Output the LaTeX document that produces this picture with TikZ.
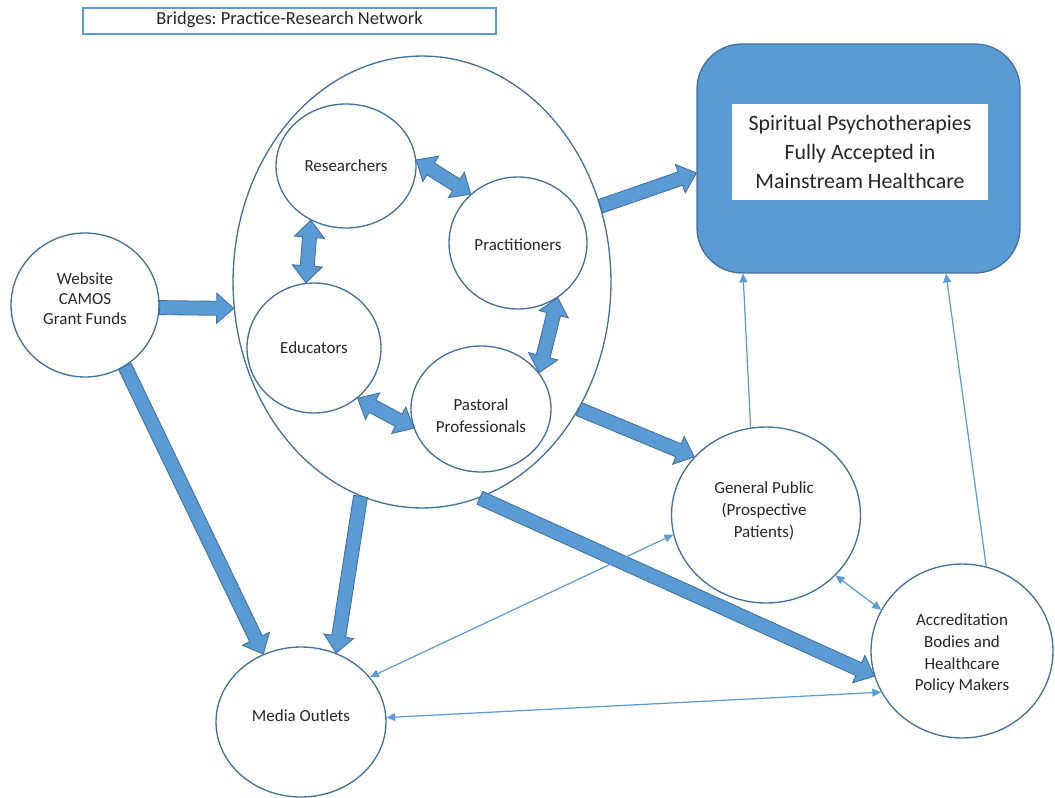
\documentclass[tikz,border=0pt]{standalone}
\usepackage{fontspec}
\setmainfont{Carlito}
\frenchspacing
\usetikzlibrary{shapes.geometric,calc,arrows.meta}
\definecolor{accentblue}{HTML}{5B9BD5}
\definecolor{edgeblue}{HTML}{41719C}
\definecolor{txt}{HTML}{262626}
\newcommand{\baw}{0.14cm}
\newcommand{\baW}{0.30cm}
\newcommand{\bahl}{0.34cm}
\newcommand{\barrow}[2]{%
  \coordinate (ba-s) at (#1);
  \coordinate (ba-t) at (#2);
  \coordinate (ba-c) at ($(ba-t)!\bahl!(ba-s)$);
  \draw[blockarrow] ($(ba-s)!\baw!90:(ba-t)$) -- ($(ba-c)!\baw!-90:(ba-s)$) -- ($(ba-c)!\baW!-90:(ba-s)$) -- (ba-t) -- ($(ba-c)!\baW!90:(ba-s)$) -- ($(ba-c)!\baw!90:(ba-s)$) -- ($(ba-s)!\baw!-90:(ba-t)$) -- cycle;}
\newcommand{\dbarrow}[2]{%
  \coordinate (ba-s) at (#1);
  \coordinate (ba-t) at (#2);
  \coordinate (ba-c) at ($(ba-s)!\bahl!(ba-t)$);
  \coordinate (ba-d) at ($(ba-t)!\bahl!(ba-s)$);
  \draw[blockarrow] (ba-s) -- ($(ba-c)!\baW!90:(ba-t)$) -- ($(ba-c)!\baw!90:(ba-t)$) -- ($(ba-d)!\baw!-90:(ba-s)$) -- ($(ba-d)!\baW!-90:(ba-s)$) -- (ba-t) -- ($(ba-d)!\baW!90:(ba-s)$) -- ($(ba-d)!\baw!90:(ba-s)$) -- ($(ba-c)!\baw!-90:(ba-t)$) -- ($(ba-c)!\baW!-90:(ba-t)$) -- cycle;}
\tikzset{
  actor/.style={ellipse, draw=edgeblue, line width=0.75pt, fill=white, inner sep=0pt},
  actortext/.style={text=txt, align=center, font=\fontsize{9.65}{12.5}\selectfont, inner sep=0pt},
  blockarrow/.style={fill=accentblue, draw=edgeblue, line width=0.5pt, line join=miter},
  thinarrow/.style={draw=accentblue, line width=0.7pt, -{Triangle[length=5pt,width=4.5pt]}},
  thinboth/.style={draw=accentblue, line width=0.7pt, {Triangle[length=5pt,width=4.5pt]}-{Triangle[length=5pt,width=4.5pt]}},
  goalbox/.style={rectangle, rounded corners=0.9cm, fill=accentblue, draw=edgeblue, line width=0.75pt, minimum width=6.46cm, minimum height=4.58cm},
  goallabel/.style={rectangle, fill=white, minimum width=5.12cm, minimum height=1.92cm, inner sep=0pt, align=center, text=txt, font=\fontsize{12.45}{16.4}\selectfont},
  titlebox/.style={rectangle, draw=accentblue, line width=1.1pt, minimum width=8.26cm, minimum height=0.52cm, inner sep=0pt},
  titletext/.style={text=txt, font=\fontsize{10.5}{12.6}\selectfont, inner sep=0pt}
}
\begin{document}
\begin{tikzpicture}[x=0.02cm,y=-0.02cm]
\useasboundingbox (0,0) rectangle (1055,798);
\node[titlebox] (title) at (289.5,21) {};
\node[titletext] (title-t) at ([yshift=0.02cm]title.center) {Bridges: Practice-Research Network};
\node[actor, minimum width=7.56cm, minimum height=9.04cm] (net) at (422,282) {};
\node[actor, minimum width=2.8cm, minimum height=2.48cm] (res) at (346,166) {};
\node[actor, minimum width=2.76cm, minimum height=2.64cm] (prac) at (518,243) {};
\node[actor, minimum width=2.68cm, minimum height=2.6cm] (edu) at (314,348) {};
\node[actor, minimum width=2.8cm, minimum height=2.52cm] (past) at (481,409) {};
\node[actor, minimum width=2.96cm, minimum height=2.88cm] (web) at (85,305) {};
\node[goalbox] (goal) at (858.5,158.5) {};
\node[goallabel] (goaltext) at (860,152) {Spiritual Psychotherapies\\Fully Accepted in\\Mainstream Healthcare};
\node[actor, minimum width=3.78cm, minimum height=3.52cm] (gp) at (766,515) {};
\node[actor, minimum width=3.64cm, minimum height=3.48cm] (acc) at (962,651) {};
\node[actor, minimum width=3.4cm, minimum height=3.0cm] (media) at (301,722) {};
\node[actortext] (res-t) at (res.center) {Researchers};
\node[actortext] (prac-t) at ([yshift=-0.04cm]prac.center) {Practitioners};
\node[actortext] (edu-t) at (edu.center) {Educators};
\node[actortext] (past-t) at ([yshift=-0.13cm]past.center) {Pastoral\\Professionals};
\node[actortext, font=\fontsize{9.65}{11.4}\selectfont] (web-t) at ([yshift=0.12cm]web.center) {Website\\CAMOS\\Grant Funds};
\node[actortext] (gp-t) at ([yshift=0.08cm,xshift=-0.04cm]gp.center) {General Public\\(Prospective\\Patients)};
\node[actortext] (acc-t) at ([yshift=-0.05cm]acc.center) {Accreditation\\Bodies and\\Healthcare\\Policy Makers};
\node[actortext] (media-t) at ([yshift=0.12cm]media.center) {Media Outlets};
\coordinate (goalin) at ([yshift=-0.29cm]goal.west);
\coordinate (goalgp) at ([xshift=-2.31cm]goal.south);
\coordinate (goalacc) at ([xshift=1.75cm]goal.south);
\barrow{web.-2.3}{net.-172.2}
\barrow{web.-57.8}{media.119.8}
\barrow{net.23.9}{goalin}
\barrow{net.-39.7}{gp.141.5}
\barrow{net.-106.2}{media.63.8}
\barrow{net.-75.3}{acc.-164.6}
\dbarrow{res.5.5}{prac.134.4}
\dbarrow{res.-123.7}{edu.97.9}
\dbarrow{prac.-54.7}{past.32.8}
\dbarrow{edu.-49.3}{past.-164.4}
\draw[thinarrow] (gp.100.3) -- (goalgp);
\draw[thinarrow] (acc.74.1) -- (goalacc);
\draw[thinboth] (gp.-41.8) -- (acc.153.1);
\draw[thinboth] (media.33.9) -- (gp.-168.6);
\draw[thinboth] (media.3.3) -- (acc.-153.7);
\end{tikzpicture}
\end{document}
